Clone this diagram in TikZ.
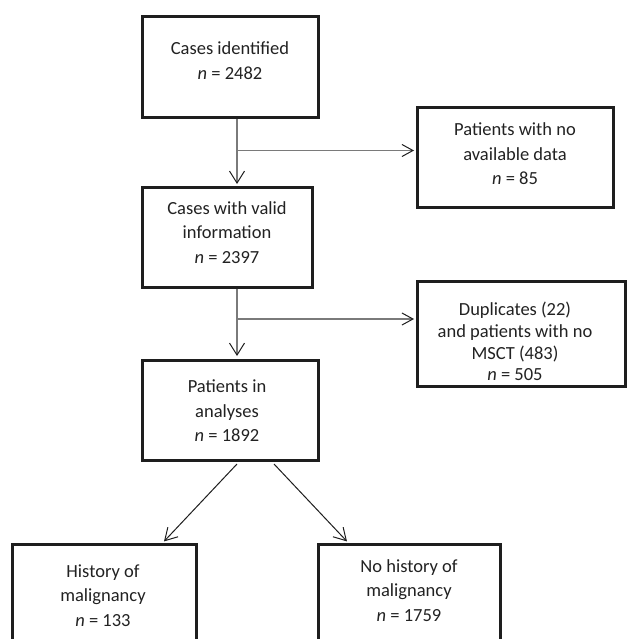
\documentclass[tikz,border=0pt]{standalone}
\usepackage{fontspec}
\setmainfont{Carlito}
\usetikzlibrary{arrows.meta}
\definecolor{boxc}{HTML}{1E1E1E}
\definecolor{linec}{HTML}{7A7A7A}
\definecolor{txtc}{HTML}{222222}
\begin{document}
\begin{tikzpicture}[x=1pt,y=-1pt,
  box/.style={draw=boxc,line width=3pt,inner sep=0pt},
  txt/.style={align=center,text=txtc,font=\fontsize{18.5}{24.5}\selectfont,inner sep=0pt},
  txttight/.style={txt,font=\fontsize{18.5}{21.8}\selectfont},
  conn/.style={draw=linec,line width=1.8pt},
  tipv/.style={-{Straight Barb[length=12pt,width=15pt,line width=1pt,color=boxc]}},
  tiph/.style={-{Straight Barb[length=11pt,width=12pt,line width=1pt,color=boxc]}},
  diag/.style={draw=boxc,line width=1pt,-{Straight Barb[length=12pt,width=14pt,line width=1pt]}}]
\useasboundingbox (0,0) rectangle (627,639);
\fill[white] (0,0) rectangle (627,639);
% boxes
\node[box,minimum width=176pt,minimum height=101pt] (b1) at (230,67.5) {};
\node[box,minimum width=196pt,minimum height=99pt] (b2) at (515,157.5) {};
\node[box,minimum width=170pt,minimum height=100pt] (b3) at (227,237) {};
\node[box,minimum width=208pt,minimum height=105pt] (b4) at (521,333.5) {};
\node[box,minimum width=176pt,minimum height=100pt] (b5) at (230,410) {};
\node[box,minimum width=184pt,minimum height=121pt] (b6) at (104,604.5) {};
\node[box,minimum width=182pt,minimum height=121pt] (b7) at (409,604.5) {};
% texts
\node[txt] (t1) at (230,60.5) {Cases identified\\\textit{n} = 2482};
\node[txt] (t2) at (515,154) {Patients with no\\available data\\\textit{n} = 85};
\node[txt] (t3) at (227,232.5) {Cases with valid\\information\\\textit{n} = 2397};
\node[txttight] (t4) at (515,341.5) {Duplicates (22)\\and patients with no\\MSCT (483)\\\textit{n} = 505};
\node[txt] (t5) at (227,411) {Patients in\\analyses\\\textit{n} = 1892};
\node[txt] (t6) at (103,595.5) {History of\\malignancy\\\textit{n} = 133};
\node[txt] (t7) at (409,590.5) {No history of\\malignancy\\\textit{n} = 1759};
% connector coordinates
\coordinate (vx) at (237,0);
\coordinate (br1) at (237,150.5);
\coordinate (br2) at (237,319);
\coordinate (d1s) at (237,464);
\coordinate (d2s) at (274,464);
\coordinate (d1e) at (163,0);
\coordinate (d2e) at (348,0);
% connectors
\draw[conn,tipv,shorten >=1.5pt] (b1.south -| vx) -- (b3.north -| vx);
\draw[conn,tiph,shorten >=1.5pt] (br1) -- (br1 -| b2.west);
\draw[conn,tipv,shorten >=2.5pt] (b3.south -| vx) -- (b5.north -| vx);
\draw[conn,tiph,shorten >=1.5pt] (br2) -- (br2 -| b4.west);
\draw[diag,shorten >=1.5pt] (d1s) -- (b6.north -| d1e);
\draw[diag,shorten >=1.5pt] (d2s) -- (b7.north -| d2e);
\end{tikzpicture}
\end{document}
